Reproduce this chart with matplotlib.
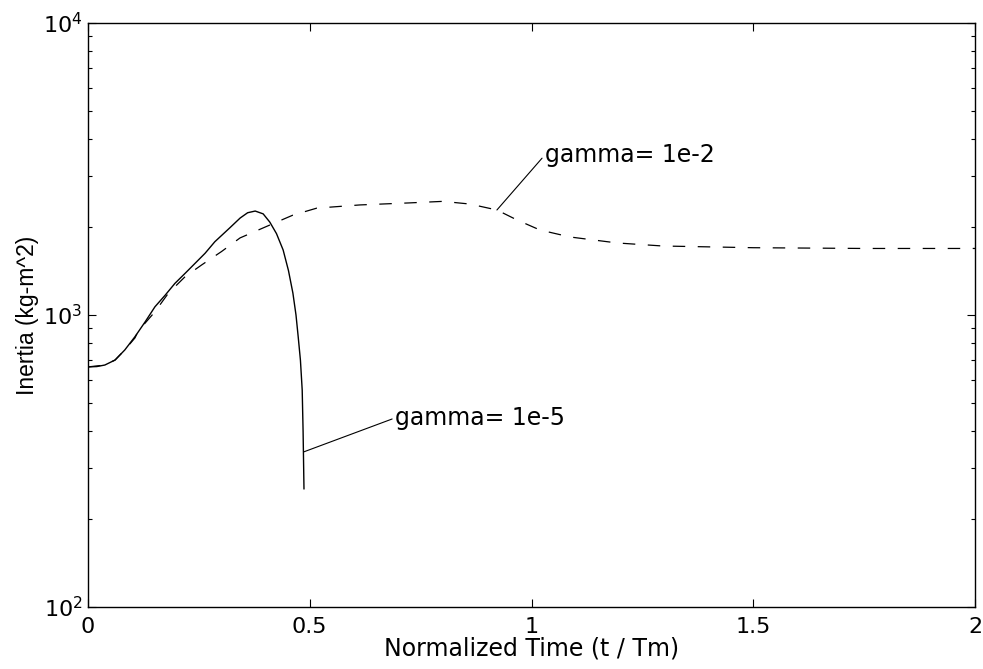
import numpy as np
import matplotlib
matplotlib.use('Agg')
import matplotlib.pyplot as plt
from matplotlib.ticker import LogLocator, LogFormatterSciNotation, NullFormatter

# horizontal text in the picture is wide, DejaVu Sans is the closest footprint
plt.rcParams['font.family'] = ['DejaVu Sans']
plt.rcParams['mathtext.fontset'] = 'dejavusans'

# gamma = 1e-5 (solid)
t_low = [0, 0.02, 0.038, 0.061, 0.083, 0.106, 0.129, 0.151, 0.174, 0.196, 0.219,
         0.264, 0.286, 0.32, 0.343, 0.36, 0.377, 0.395, 0.41, 0.425, 0.44, 0.452,
         0.462, 0.469, 0.474, 0.479, 0.483, 0.485, 0.487]
inertia_low = [664, 666, 674, 701, 759, 843, 948, 1067, 1169, 1283, 1389,
               1627, 1782, 1990, 2148, 2240, 2270, 2220, 2080, 1900, 1670, 1420,
               1189, 1000, 841, 700, 553, 400, 254]

# gamma = 1e-2 (dashed)
t_high = [0, 0.038, 0.061, 0.083, 0.106, 0.113, 0.151, 0.181, 0.219, 0.256, 0.301,
          0.343, 0.41, 0.462, 0.516, 0.613, 0.726, 0.80, 0.861, 0.922, 0.967, 1.019,
          1.087, 1.193, 1.296, 1.5, 1.75, 2.0]
inertia_high = [664, 674, 701, 759, 835, 880, 1026, 1186, 1353, 1483, 1649,
                1837, 2033, 2198, 2323, 2382, 2421, 2450, 2399, 2289, 2117, 1955,
                1850, 1765, 1723, 1700, 1690, 1690]

xticks = [0, 0.5, 1, 1.5, 2]
xticklabels = ['0', '0.5', '1', '1.5', '2']

fig = plt.figure(figsize=(9.83, 6.69), dpi=100)
ax = fig.add_axes([0.0895, 0.0927, 0.9024, 0.8729])

ax.plot(t_low, inertia_low, color='black', lw=1.0)
ax.plot(t_high, inertia_high, color='black', lw=0.9, linestyle=(0, (10, 10)))

ax.set_yscale('log')
ax.set_xlim(0, 2)
ax.set_ylim(1e2, 1e4)
ax.set_xticks(xticks)
ax.set_xticklabels(xticklabels)
ax.yaxis.set_major_locator(LogLocator(base=10))
ax.yaxis.set_major_formatter(LogFormatterSciNotation())
ax.yaxis.set_minor_locator(LogLocator(base=10, subs=np.arange(2, 10)))
ax.yaxis.set_minor_formatter(NullFormatter())

ax.tick_params(which='both', direction='in', top=True, right=True, labelsize=16)
ax.tick_params(which='major', length=6, width=0.8)
ax.tick_params(which='minor', length=3, width=0.8)
ax.tick_params(axis='x', pad=7)
ax.tick_params(axis='y', pad=4)
for s in ax.spines.values():
    s.set_linewidth(1.0)

ax.set_xlabel('Normalized Time (t / Tm)', fontsize=17, labelpad=0)
ax.set_ylabel('Inertia (kg-m^2)', fontsize=16.5, family='Liberation Sans', labelpad=3)

# labels with leader lines
ax.annotate('gamma= 1e-5', xy=(0.487, 340), xytext=(0.692, 444),
            fontsize=17, va='center', ha='left',
            arrowprops=dict(arrowstyle='-', lw=0.8, color='black',
                            relpos=(0, 0.5), shrinkA=0, shrinkB=0))
ax.annotate('gamma= 1e-2', xy=(0.922, 2289), xytext=(1.030, 3532),
            fontsize=17, va='center', ha='left',
            arrowprops=dict(arrowstyle='-', lw=0.8, color='black',
                            relpos=(0, 0.5), shrinkA=0, shrinkB=0))

fig.savefig('out.png', dpi=100)
